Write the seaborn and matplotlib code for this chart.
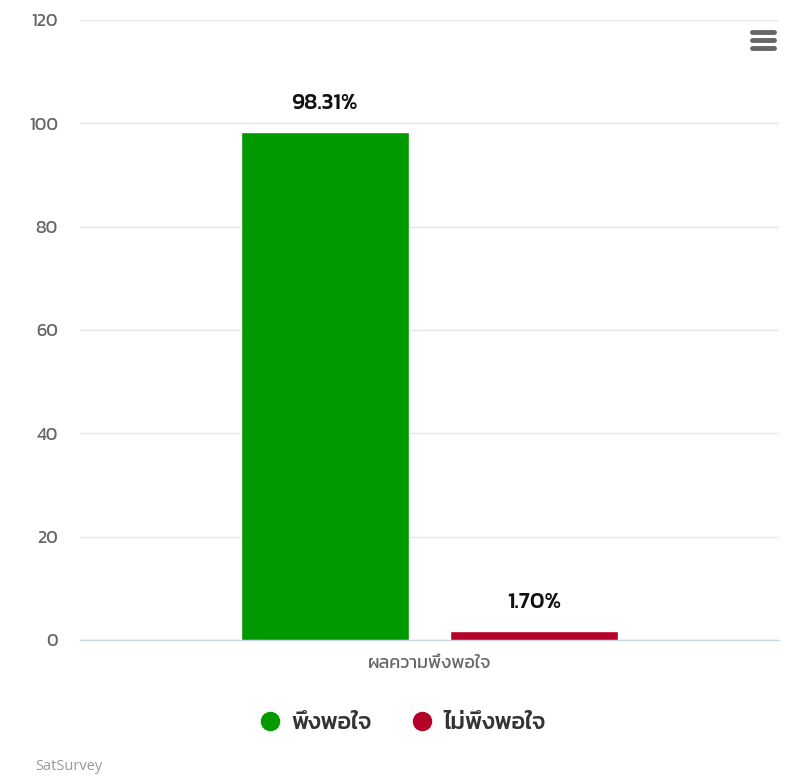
import matplotlib
matplotlib.use("Agg")
import matplotlib.pyplot as plt
from matplotlib.lines import Line2D
import pandas as pd
import seaborn as sns

# Survey result: share of satisfied vs. not satisfied respondents
category = ["ผลความพึงพอใจ"]
series = ["พึงพอใจ", "ไม่พึงพอใจ"]
values = [98.31, 1.70]
colors = ["#009900", "#b5002a"]
y_ticks = [0, 20, 40, 60, 80, 100, 120]

df = pd.DataFrame({
    "category": category * len(series),
    "series": series,
    "value": values,
})

sns.set_theme(style="white")
plt.rcParams["font.family"] = ["Kanit", "DejaVu Sans"]

fig = plt.figure(figsize=(7.99, 7.80), dpi=100)
ax = fig.add_axes([80 / 799, 140 / 780, 699 / 799, 620 / 780])

sns.barplot(data=df, x="category", y="value", hue="series",
            palette=colors, width=0.6, gap=0.2, dodge=True,
            saturation=1, legend=False, ax=ax, zorder=3)

ax.set_xlim(-0.5, 0.5)
ax.set_ylim(0, 120)
ax.set_yticks(y_ticks)
ax.grid(axis="y", color="#e6e6e6", linewidth=1, zorder=0)
ax.set_axisbelow(True)
for side in ["left", "right", "top"]:
    ax.spines[side].set_visible(False)
ax.spines["bottom"].set_color("#ccd6eb")
ax.spines["bottom"].set_linewidth(1)
ax.tick_params(axis="both", length=0, colors="#666666", labelsize=13)
ax.tick_params(axis="y", pad=16)
ax.tick_params(axis="x", pad=11)
ax.set_xlabel("")
ax.set_ylabel("")

# value labels above each bar
for container, v in zip(ax.containers, values):
    ax.bar_label(container, labels=[f"{v:.2f}%"], padding=14,
                 fontsize=16, fontweight="medium", color="#111111")

# legend with round markers below the plot
handles = [Line2D([], [], marker="o", linestyle="none", markersize=13,
                  markerfacecolor=c, markeredgecolor=c) for c in colors]
leg = fig.legend(handles, series, loc="center", bbox_to_anchor=(402 / 799, 1 - 723 / 780),
                 ncol=2, frameon=False, fontsize=17, handletextpad=0.4,
                 columnspacing=1.6, handlelength=1.0)
for t in leg.get_texts():
    t.set_fontweight("medium")
    t.set_color("#333333")

# credit line
fig.text(35 / 799, 1 - 766 / 780, "SatSurvey", fontsize=10.5, color="#999999",
         va="center", ha="left", family=["Open Sans", "DejaVu Sans"])

# context menu icon in the top-right corner
for yy in (32, 40, 48):
    fig.add_artist(Line2D([752 / 799, 774 / 799], [1 - yy / 780, 1 - yy / 780],
                          transform=fig.transFigure, color="#666666",
                          linewidth=3.5, solid_capstyle="round"))

fig.savefig("out.png", dpi=100, facecolor="white")
